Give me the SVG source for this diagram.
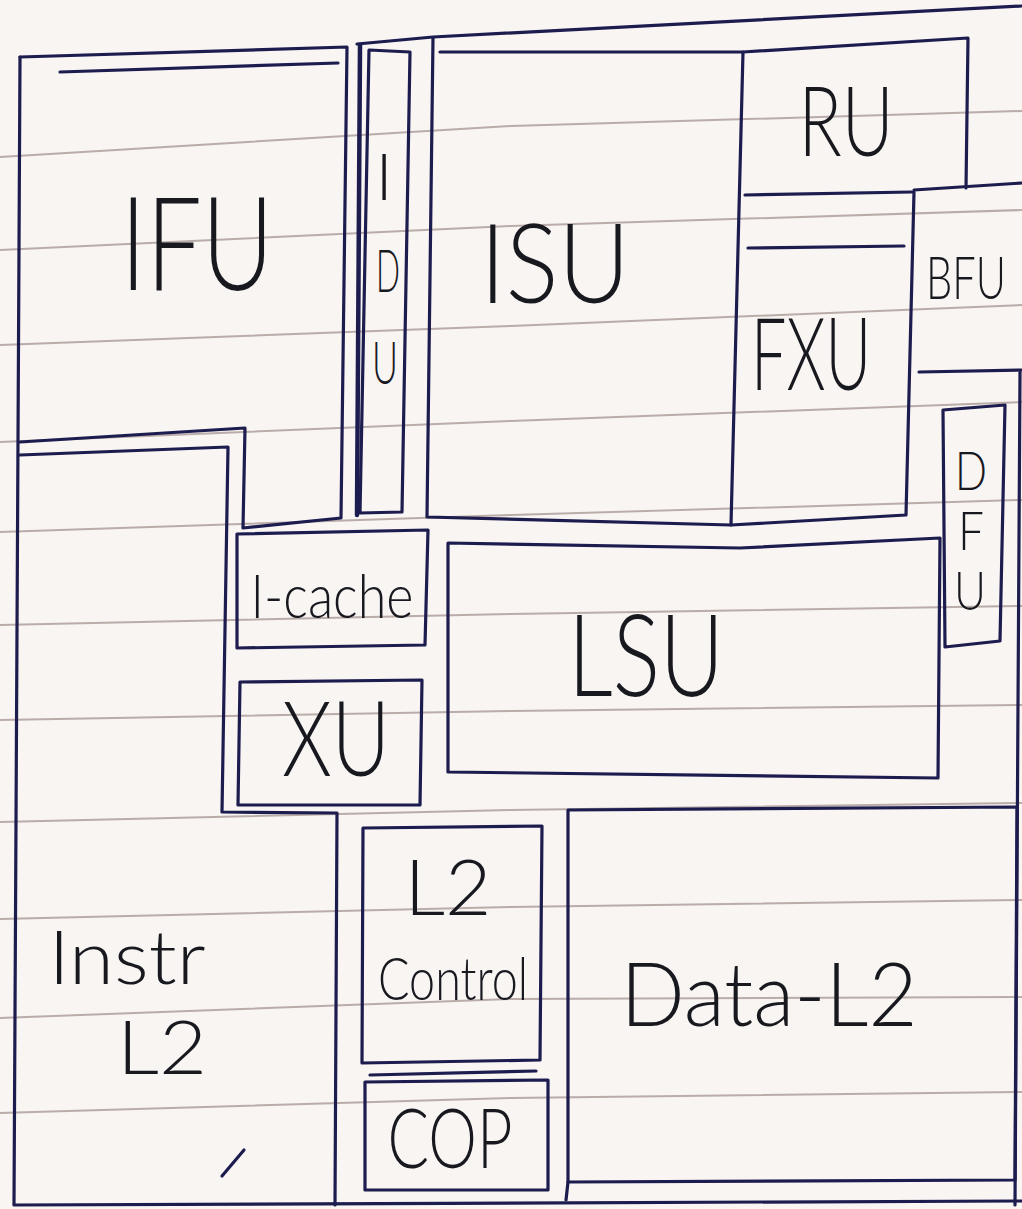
<svg xmlns="http://www.w3.org/2000/svg" width="1022" height="1209" viewBox="0 0 1022 1209">
<defs>
<style>
.paper{stroke:#a99a96;stroke-width:2;fill:none;opacity:0.8}
.ink{stroke:#1d1c4f;stroke-width:3.2;fill:none;stroke-linejoin:round;stroke-linecap:round}
.thick{stroke-width:4.5}
.lbl{font-family:"Lato","Roboto","Liberation Sans",sans-serif;font-weight:300;fill:#18181f;text-anchor:middle}
</style>
</defs>
<rect width="1022" height="1209" fill="#f8f5f3"/>
<g id="paper-lines">
<path class="paper" d="M0,157 L511,126 L1022,111"/>
<path class="paper" d="M0,250 L511,226 L1022,210"/>
<path class="paper" d="M0,345 L511,326 L1022,305"/>
<path class="paper" d="M0,442 L511,421 L1022,402"/>
<path class="paper" d="M0,532 L511,515 L1022,500"/>
<path class="paper" d="M0,625 L511,614 L1022,606"/>
<path class="paper" d="M0,720 L511,711 L1022,705"/>
<path class="paper" d="M0,822 L511,810 L1022,803"/>
<path class="paper" d="M0,919 L511,907 L1022,900"/>
<path class="paper" d="M0,1018 L511,999 L1022,997"/>
<path class="paper" d="M0,1113 L511,1098 L1022,1092"/>
</g>
<g id="connectors">
<path class="ink" d="M357,44 L433,37 Q700,22 1022,6"/>
<path class="ink thick" d="M360,45 L357,515"/>
<path class="ink" d="M20,57 L14,1205 L1022,1201"/>
<path class="ink" d="M1020,372 L1015,1205"/>
<path class="ink" d="M222,1176 L244,1150"/>
</g>
<g id="ifu">
<path class="ink" d="M20,57 L347,47 L341,518 L243,528 L245,428 L20,442"/>
<path class="ink" d="M60,72 L338,63"/>
<text class="lbl" x="197" y="290" font-size="130" textLength="153" lengthAdjust="spacingAndGlyphs">IFU</text>
</g>
<g id="idu">
<path class="ink" d="M369,50 L410,52 L402,512 L360,513 Z"/>
<text class="lbl" x="384" y="200" font-size="66">I</text>
<text class="lbl" x="388" y="292" font-size="60" textLength="24" lengthAdjust="spacingAndGlyphs">D</text>
<text class="lbl" x="385" y="384" font-size="60" textLength="26" lengthAdjust="spacingAndGlyphs">U</text>
</g>
<g id="isu">
<path class="ink" d="M433,38 L427,517 L731,525 L743,52 L440,52"/>
<text class="lbl" x="555" y="303" font-size="111" textLength="150" lengthAdjust="spacingAndGlyphs">ISU</text>
</g>
<g id="ru">
<path class="ink" d="M743,52 L968,38 L966,188"/>
<path class="ink" d="M745,195 L912,192" stroke-width="2"/>
<text class="lbl" x="846" y="156" font-size="97" textLength="95" lengthAdjust="spacingAndGlyphs">RU</text>
</g>
<g id="fxu">
<path class="ink" d="M748,248 L904,246" stroke-width="2"/>
<path class="ink" d="M914,192 L906,515 L731,525"/>
<text class="lbl" x="811" y="390" font-size="100" textLength="120" lengthAdjust="spacingAndGlyphs">FXU</text>
</g>
<g id="bfu">
<path class="ink" d="M914,190 L1022,183"/>
<path class="ink" d="M919,372 L1022,370"/>
<text class="lbl" x="966" y="299" font-size="60" textLength="80" lengthAdjust="spacingAndGlyphs">BFU</text>
</g>
<g id="dfu">
<path class="ink" d="M943,410 L1005,405 L1000,641 L945,647 Z"/>
<text class="lbl" x="971" y="490" font-size="54" textLength="32" lengthAdjust="spacingAndGlyphs">D</text>
<text class="lbl" x="971" y="550" font-size="54" textLength="26" lengthAdjust="spacingAndGlyphs">F</text>
<text class="lbl" x="970" y="610" font-size="54" textLength="32" lengthAdjust="spacingAndGlyphs">U</text>
</g>
<g id="lsu">
<path class="ink" d="M448,543 L740,548 L940,538 L938,778 L448,772 Z"/>
<text class="lbl" x="646" y="696" font-size="114" textLength="156" lengthAdjust="spacingAndGlyphs">LSU</text>
</g>
<g id="icache">
<path class="ink" d="M237,534 L428,530 L425,645 L237,648 Z"/>
<text class="lbl" x="332" y="618" font-size="62" textLength="163" lengthAdjust="spacingAndGlyphs">I-cache</text>
</g>
<g id="xu">
<path class="ink" d="M240,682 L422,680 L420,805 L238,805 Z"/>
<text class="lbl" x="336" y="776" font-size="104" textLength="108" lengthAdjust="spacingAndGlyphs">XU</text>
</g>
<g id="instl2">
<path class="ink" d="M20,455 L228,447 L222,812 L337,813 L335,1205"/>
<text class="lbl" x="127" y="984" font-size="74" textLength="157" lengthAdjust="spacingAndGlyphs">Instr</text>
<text class="lbl" x="162" y="1074" font-size="74" textLength="90" lengthAdjust="spacingAndGlyphs">L2</text>
</g>
<g id="l2control">
<path class="ink" d="M363,828 L542,826 L540,1060 L362,1063 Z"/>
<text class="lbl" x="448" y="915" font-size="76" textLength="87" lengthAdjust="spacingAndGlyphs">L2</text>
<text class="lbl" x="453" y="1000" font-size="60" textLength="150" lengthAdjust="spacingAndGlyphs">Control</text>
</g>
<g id="cop">
<path class="ink" d="M365,1082 L548,1080 L548,1190 L365,1190 Z"/>
<path class="ink" d="M370,1075 L536,1071" stroke-width="2"/>
<text class="lbl" x="450" y="1168" font-size="83" textLength="125" lengthAdjust="spacingAndGlyphs">COP</text>
</g>
<g id="datal2">
<path class="ink" d="M568,810 L1017,807 L1015,1180 L568,1182 Z"/>
<path class="ink" d="M568,1182 L566,1200"/>
<text class="lbl" x="769" y="1026" font-size="89" textLength="297" lengthAdjust="spacingAndGlyphs">Data-L2</text>
</g>
</svg>
